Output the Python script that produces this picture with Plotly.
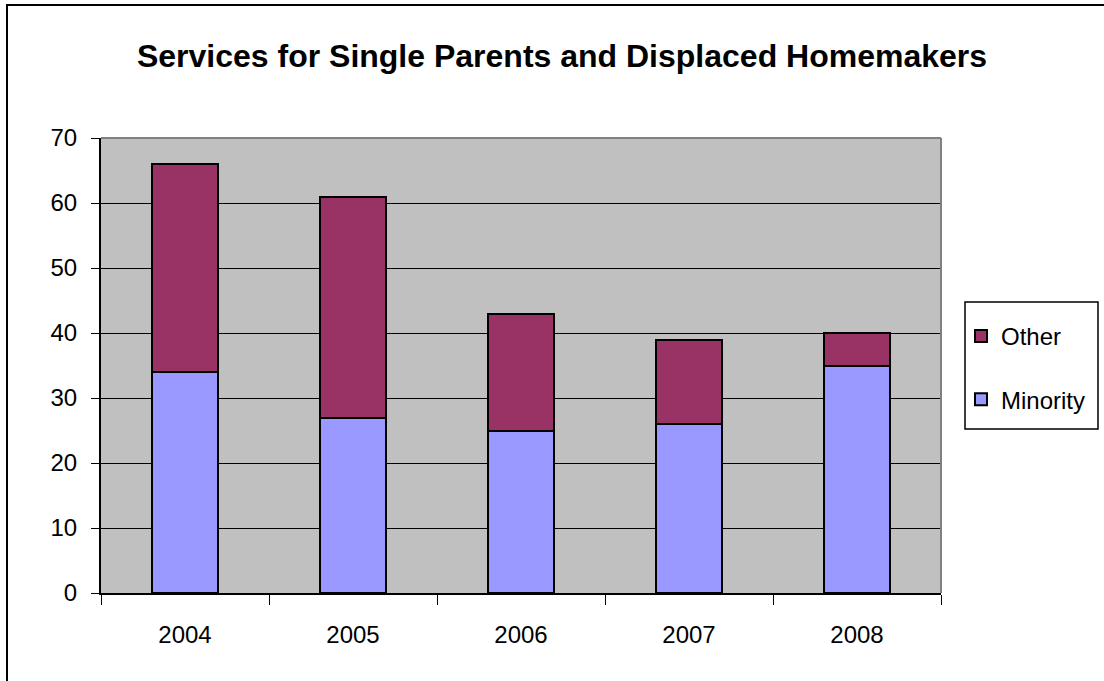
import plotly.graph_objects as go

# Data
years = ["2004", "2005", "2006", "2007", "2008"]
minority = [34, 27, 25, 26, 35]
other = [32, 34, 18, 13, 5]
y_ticks = [0, 10, 20, 30, 40, 50, 60, 70]

FONT = "Liberation Sans, Arial, sans-serif"
W, H = 1104, 681
L, R, T, B = 101, 163, 138, 88
PW, PH = W - L - R, H - T - B


def px_x(px):
    return (px - L) / PW


def px_y(py):
    return (H - B - py) / PH


fig = go.Figure()
fig.add_trace(go.Bar(
    x=years, y=minority, name="Minority",
    marker=dict(color="#9999FF", line=dict(color="black", width=2)),
    legendgroup="minority", legendrank=2,
))
fig.add_trace(go.Bar(
    x=years, y=other, name="Other",
    marker=dict(color="#993366", line=dict(color="black", width=2)),
    legendgroup="other", legendrank=1,
))

fig.update_layout(
    width=W, height=H,
    margin=dict(l=L, r=R, t=T, b=B, autoexpand=False),
    barmode="stack",
    bargap=0.607,
    paper_bgcolor="white",
    plot_bgcolor="#C0C0C0",
    font=dict(family=FONT, size=24, color="black"),
    title=dict(
        text="<b>Services for Single Parents and Displaced Homemakers</b>",
        x=562 / W, xref="container", xanchor="center",
        y=1 - 56 / H, yref="container", yanchor="middle",
        font=dict(family=FONT, size=32, color="black"),
    ),
    showlegend=True,
    legend=dict(
        x=px_x(961), y=px_y(314), xanchor="left", yanchor="top",
        bgcolor="rgba(0,0,0,0)", borderwidth=0,
        traceorder="grouped", tracegroupgap=29,
        font=dict(family=FONT, size=24, color="black"),
    ),
    xaxis=dict(
        showgrid=False, showline=True, linecolor="black", linewidth=2,
        ticks="outside", tickson="boundaries", ticklen=10, tickcolor="black",
        tickwidth=1, ticklabelstandoff=19,
        tickfont=dict(family=FONT, size=24, color="black"),
    ),
    yaxis=dict(
        range=[0, 70], tickvals=y_ticks, showgrid=True, gridcolor="black",
        gridwidth=1, showline=True, linecolor="black", linewidth=2,
        ticks="outside", ticklen=8, tickcolor="black", tickwidth=1,
        ticklabelstandoff=9, zeroline=False,
        tickfont=dict(family=FONT, size=24, color="black"),
    ),
    shapes=[
        # gray frame along the top and right edges of the plot area
        dict(type="line", xref="paper", yref="paper", x0=0, x1=1, y0=1, y1=1,
             line=dict(color="#808080", width=2)),
        dict(type="line", xref="paper", yref="paper", x0=1, x1=1, y0=0, y1=1,
             line=dict(color="#808080", width=2)),
        # legend box
        dict(type="rect", xref="paper", yref="paper",
             x0=px_x(965), x1=px_x(1098), y0=px_y(429), y1=px_y(302),
             line=dict(color="black", width=1.5), fillcolor="rgba(0,0,0,0)"),
        # chart border
        dict(type="rect", xref="paper", yref="paper",
             x0=px_x(7), x1=px_x(1120), y0=px_y(700), y1=px_y(5),
             line=dict(color="black", width=2), fillcolor="rgba(0,0,0,0)"),
    ],
)

fig.write_html("out.html")
